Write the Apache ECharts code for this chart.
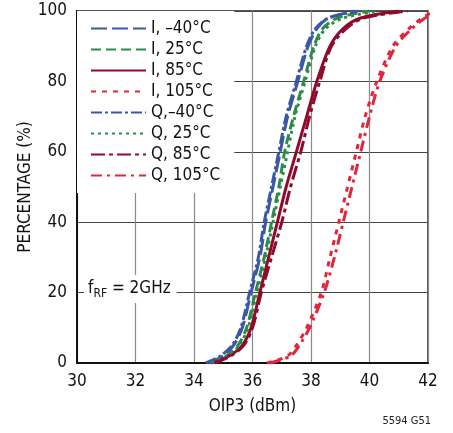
<!DOCTYPE html>
<html>
<head>
<meta charset="utf-8">
<script src="https://cdn.jsdelivr.net/npm/echarts@6/dist/echarts.min.js"></script>
<style>
html, body { margin: 0; padding: 0; background: #fff; }
#chart { width: 453px; height: 433px; }
</style>
</head>
<body>
<div id="chart"></div>
<script>
// percentage levels shared by every curve
var pctLevels = [0, 2, 5, 10, 20, 30, 40, 50, 60, 70, 80, 90, 95, 98, 100];
// OIP3 (dBm) at each percentage level
var iM40 = [34.5, 35.0, 35.35, 35.65, 35.95, 36.25, 36.45, 36.7, 36.95, 37.2, 37.55, 37.9, 38.2, 38.6, 39.5];
var i25 = [34.6, 35.1, 35.5, 35.8, 36.1, 36.4, 36.65, 36.9, 37.1, 37.4, 37.75, 38.1, 38.4, 38.9, 40.0];
var i85 = [34.6, 35.2, 35.65, 35.95, 36.25, 36.55, 36.85, 37.15, 37.5, 37.85, 38.2, 38.65, 39.1, 39.7, 41.0];
var i105 = [36.5, 37.2, 37.5, 37.85, 38.35, 38.65, 38.95, 39.25, 39.55, 39.85, 40.25, 40.8, 41.35, 41.8, 42.2];
var qM40 = [34.4, 34.9, 35.3, 35.6, 35.9, 36.2, 36.4, 36.65, 36.9, 37.15, 37.5, 37.85, 38.15, 38.6, 39.6];
var q25 = [34.6, 35.15, 35.55, 35.85, 36.15, 36.45, 36.7, 36.95, 37.2, 37.45, 37.8, 38.15, 38.5, 39.1, 40.3];
var q85 = [34.7, 35.25, 35.7, 36.0, 36.3, 36.65, 37.0, 37.3, 37.65, 37.95, 38.3, 38.7, 39.2, 39.8, 41.3];
var q105 = [36.6, 37.3, 37.6, 37.95, 38.45, 38.8, 39.1, 39.4, 39.7, 40.0, 40.35, 40.9, 41.45, 41.9, 42.3];

var xTicks = [30, 32, 34, 36, 38, 40, 42];
var yTicks = [0, 20, 40, 60, 80, 100];

var FONT = '"Liberation Sans Narrow", "DejaVu Sans Condensed", "Liberation Sans", sans-serif';
var BLUE = '#3b58a8', GREEN = '#2f8a4a', DRED = '#8e0b2c', RED = '#e1253a';

function pairs(xs) {
	var out = [];
	for (var i = 0; i < xs.length; i++) {
		out.push([xs[i], pctLevels[i]]);
	}
	return out;
}

function mkSeries(name, xs, color, dash) {
	return {
		name: name,
		type: 'line',
		symbol: 'none',
		smooth: 0.3,
		data: pairs(xs),
		lineStyle: { color: color, width: 3, type: dash },
		itemStyle: { color: color }
	};
}

var myChart = echarts.init(document.getElementById('chart'), null, { renderer: 'canvas' });

var option = {
	animation: false,
	backgroundColor: '#fff',
	grid: {
		left: 77, right: 25, top: 11, bottom: 70,
		show: true, borderColor: '#222', borderWidth: 1.5,
		containLabel: false
	},
	legend: {
		orient: 'vertical',
		left: 77, top: 11,
		padding: [9, 14, 9, 13],
		backgroundColor: '#fff',
		itemWidth: 55, itemHeight: 6, itemGap: 4,
		itemStyle: { opacity: 0 },
		textStyle: { fontFamily: FONT, fontSize: 17, color: '#111', lineHeight: 17 },
		data: ['I, \u201340\u00b0C', 'I, 25\u00b0C', 'I, 85\u00b0C', 'I, 105\u00b0C',
			'Q,\u201340\u00b0C', 'Q, 25\u00b0C', 'Q, 85\u00b0C', 'Q, 105\u00b0C']
	},
	xAxis: {
		type: 'value', min: 30, max: 42, interval: 2,
		name: 'OIP3 (dBm)', nameLocation: 'middle', nameGap: 35,
		nameMoveOverlap: false,
		nameTextStyle: { fontFamily: FONT, fontSize: 17, color: '#111' },
		axisLine: { show: true, lineStyle: { color: '#111', width: 2 } },
		axisTick: { show: false },
		axisLabel: { fontFamily: FONT, fontSize: 17, color: '#111', margin: 10 },
		splitLine: { show: true, lineStyle: { color: '#8a8a8a', width: 1.2 } }
	},
	yAxis: {
		type: 'value', min: 0, max: 100, interval: 20,
		name: 'PERCENTAGE (%)', nameLocation: 'middle', nameGap: 43,
		nameMoveOverlap: false,
		nameTextStyle: { fontFamily: FONT, fontSize: 17, color: '#111' },
		axisLine: { show: true, lineStyle: { color: '#111', width: 2 } },
		axisTick: { show: false },
		axisLabel: { fontFamily: FONT, fontSize: 17, color: '#111', margin: 10 },
		splitLine: { show: true, lineStyle: { color: '#444', width: 1.2 } }
	},
	graphic: [
		{
			type: 'text', left: 84, top: 275, z: 10,
			style: {
				text: '{f|f}{s|RF}{f| = 2GHz}',
				backgroundColor: '#fff',
				padding: [3, 6, 3, 4],
				rich: {
					f: { fontFamily: FONT, fontSize: 17, fill: '#111' },
					s: { fontFamily: FONT, fontSize: 12, fill: '#111', verticalAlign: 'bottom', padding: [10, 0, 0, 0] }
				}
			}
		},
		{
			type: 'text', right: 22, bottom: 6,
			style: { text: '5594 G51', fontFamily: FONT, fontSize: 11, fill: '#222' }
		}
	],
	series: [
		mkSeries('I, \u201340\u00b0C', iM40, BLUE, [16, 5]),
		mkSeries('I, 25\u00b0C', i25, GREEN, [10, 5]),
		mkSeries('I, 85\u00b0C', i85, DRED, 'solid'),
		mkSeries('I, 105\u00b0C', i105, RED, [5, 6]),
		mkSeries('Q,\u201340\u00b0C', qM40, BLUE, [11, 3, 3, 3]),
		mkSeries('Q, 25\u00b0C', q25, GREEN, [3, 4]),
		mkSeries('Q, 85\u00b0C', q85, DRED, [14, 4, 4, 4]),
		mkSeries('Q, 105\u00b0C', q105, RED, [11, 5, 3, 5])
	]
};

myChart.setOption(option);
</script>
</body>
</html>
